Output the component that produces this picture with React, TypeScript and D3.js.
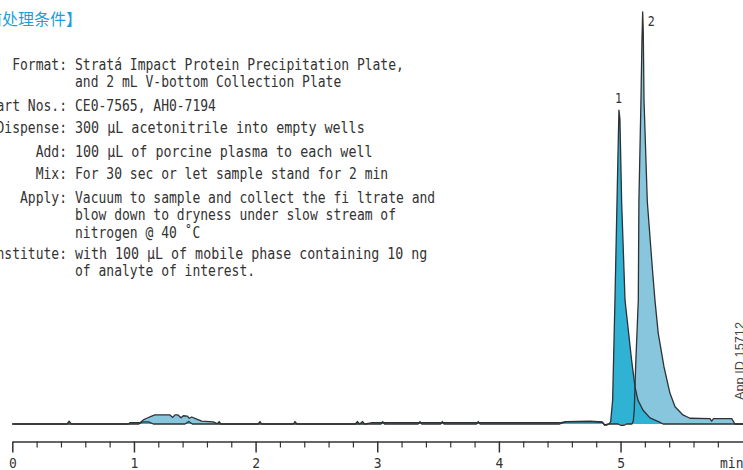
import React, { useEffect, useRef } from 'react';
import * as d3 from 'd3';

// retention time (min), relative intensity
const traceA: [number, number][] = [
  [0, 0], [0.45, 0], [0.467, 0.7], [0.485, 0],
  [1.04, 0], [1.07, 0.5], [1.12, 0.5], [1.16, 0], [1.42, 0], [1.45, 0.6], [1.48, 0],
  [1.685, 0], [1.7, 0.6], [1.715, 0],
  [2.02, 0], [2.036, 0.6], [2.05, 0],
  [2.31, 0], [2.324, 0.6], [2.34, 0],
  [2.82, 0], [2.836, 0.6], [2.855, 0], [2.88, 0.6], [2.895, 0],
  [3.03, 0], [3.045, 0.6], [3.06, 0],
  [3.335, 0], [3.351, 0.6], [3.365, 0],
  [3.52, 0], [3.535, 0.6], [3.55, 0],
  [3.815, 0], [3.831, 0.6], [3.845, 0],
  [4.5, 0], [4.55, 0.5], [4.75, 0.6], [4.85, 0.4], [4.87, -0.3], [4.89, -0.2], [4.905, 0],
  [4.919, 0.6], [4.935, 5.8], [4.954, 30], [4.971, 54], [4.983, 71], [4.987, 76.2],
  [4.995, 74], [5.009, 54], [5.037, 30], [5.091, 15.5], [5.119, 9], [5.143, 5.8],
  [5.184, 3.4], [5.242, 1.5], [5.324, 0.4], [5.35, 0], [6.01, 0],
];

const traceB: [number, number][] = [
  [0, 0], [0.954, 0], [0.967, 0.3], [1.05, 0.3], [1.077, 1.0], [1.105, 1.4], [1.146, 1.9],
  [1.173, 2.2], [1.296, 2.2], [1.319, 1.6], [1.337, 2.2], [1.362, 2.2], [1.387, 1.5],
  [1.406, 2.0], [1.439, 1.9], [1.455, 1.4], [1.475, 1.7], [1.516, 1.2], [1.557, 0.7],
  [1.652, 0.5], [1.693, 0],
  [2.9, 0], [2.95, 0.3], [4.5, 0.3], [4.55, 0.6], [4.75, 0.7], [4.85, 0.5], [4.87, -0.2],
  [4.9, 0], [4.98, 0], [5.0, -0.3], [5.03, -0.3], [5.05, 0], [5.094, 0],
  [5.105, 0.7], [5.113, 3.4], [5.124, 13.9], [5.146, 30], [5.151, 54], [5.168, 78.6],
  [5.176, 93], [5.182, 100], [5.187, 95], [5.193, 78.6], [5.22, 54], [5.261, 38],
  [5.283, 30], [5.31, 22], [5.357, 13.9], [5.406, 7.5], [5.448, 4.2], [5.513, 2.2],
  [5.571, 1.4], [5.735, 1.3], [5.749, 0.7], [5.764, 1.3], [5.914, 1.3], [5.941, 0], [6.01, 0],
];

const peakLabels = [
  { label: '1', t: 4.987, v: 76.2 },
  { label: '2', t: 5.182, v: 100 },
];

const majorTicks = [0, 1, 2, 3, 4, 5];

const title = '【前处理条件】';
const condLabels = ['Format:', 'Part Nos.:', 'Dispense:', 'Add:', 'Mix:', 'Apply:', 'Reconstitute:'];
const condValues = [
  ['Stratá Impact Protein Precipitation Plate,', 'and 2 mL V-bottom Collection Plate'],
  ['CE0-7565, AH0-7194'],
  ['300 μL acetonitrile into empty wells'],
  ['100 μL of porcine plasma to each well'],
  ['For 30 sec or let sample stand for 2 min'],
  ['Vacuum to sample and collect the fi ltrate and', 'blow down to dryness under slow stream of', 'nitrogen @ 40 ˚C'],
  ['with 100 μL of mobile phase containing 10 ng', 'of analyte of interest.'],
];

const W = 743;
const H = 470;
const CELL = 7.83;
const MONO = "'DejaVu Sans Mono', monospace";
const INK = '#333';
const cells = (s: string) => s.length + (s.match(/μ/g) || []).length;

export default function App() {
  const ref = useRef<SVGSVGElement>(null);

  useEffect(() => {
    const svg = d3.select(ref.current);
    svg.selectAll('*').remove();

    const x = d3.scaleLinear().domain([0, 6.01]).range([12.3, 743.4]);
    const y = d3.scaleLinear().domain([0, 100]).range([424, 12]);

    const area = d3.area<[number, number]>()
      .x(d => x(d[0]))
      .y0(y(0))
      .y1(d => y(d[1]));
    const line = d3.line<[number, number]>()
      .x(d => x(d[0]))
      .y(d => y(d[1]));

    // fills: light trace under, dark trace over
    svg.append('path').attr('d', area(traceB)).attr('fill', '#88c6de');
    svg.append('path').attr('d', area(traceA)).attr('fill', '#2fb2d3');
    svg.append('path').attr('d', line(traceB)).attr('fill', 'none')
      .attr('stroke', '#2e3235').attr('stroke-width', 1.3).attr('stroke-linejoin', 'round');
    svg.append('path').attr('d', line(traceA)).attr('fill', 'none')
      .attr('stroke', '#2e3235').attr('stroke-width', 1.3).attr('stroke-linejoin', 'round');

    svg.selectAll('text.peak')
      .data(peakLabels)
      .enter()
      .append('text')
      .attr('class', 'peak')
      .attr('x', d => x(d.t) + (d.label === '1' ? -4 : 5))
      .attr('y', d => y(d.v) - (d.label === '1' ? 7 : -14))
      .attr('font-family', MONO)
      .attr('font-size', 14)
      .attr('fill', INK)
      .attr('textLength', 7).attr('lengthAdjust', 'spacingAndGlyphs')
      .text(d => d.label);

    // x axis
    const minorTicks = d3.range(0, 5.9, 0.2).filter(t => Math.abs(t - Math.round(t)) > 0.01);
    const gMinor = svg.append('g').attr('transform', 'translate(0,441.5)')
      .call(d3.axisBottom(x).tickValues(minorTicks).tickSize(6).tickSizeOuter(0).tickFormat(() => ''));
    gMinor.select('.domain').attr('stroke', INK).attr('stroke-width', 1.5);
    gMinor.selectAll('.tick line').attr('stroke', INK).attr('stroke-width', 1.2);

    const gMajor = svg.append('g').attr('transform', 'translate(0,441.5)')
      .call(d3.axisBottom(x).tickValues(majorTicks).tickSize(11).tickSizeOuter(0).tickFormat(d3.format('d')));
    gMajor.select('.domain').remove();
    gMajor.selectAll('.tick line').attr('stroke', INK).attr('stroke-width', 1.5);
    gMajor.selectAll('.tick text')
      .attr('y', 26.5).attr('dy', null)
      .attr('font-family', MONO).attr('font-size', 14.5).attr('fill', INK)
      .attr('textLength', CELL).attr('lengthAdjust', 'spacingAndGlyphs');

    svg.append('text')
      .attr('x', 720).attr('y', 468)
      .attr('font-family', MONO).attr('font-size', 14.5).attr('fill', INK)
      .attr('textLength', 3 * CELL).attr('lengthAdjust', 'spacingAndGlyphs')
      .text('min');

    svg.append('text')
      .attr('transform', 'translate(744,400) rotate(-90)')
      .attr('font-family', "'Liberation Sans', sans-serif").attr('font-size', 13.5).attr('fill', '#444')
      .attr('textLength', 78).attr('lengthAdjust', 'spacingAndGlyphs')
      .text('App ID 15712');

    // conditions block
    svg.append('text')
      .attr('x', 82).attr('y', 25)
      .attr('text-anchor', 'end')
      .attr('font-family', "'Noto Sans CJK SC', sans-serif").attr('font-size', 16)
      .attr('fill', '#1d9fd6')
      .text(title);

    const rowStart = [70, 111, 133, 157, 179, 203, 259];
    condLabels.forEach((lab, i) => {
      svg.append('text')
        .attr('x', 67).attr('y', rowStart[i])
        .attr('text-anchor', 'end')
        .attr('font-family', MONO).attr('font-size', 15).attr('fill', INK)
        .attr('textLength', cells(lab) * CELL).attr('lengthAdjust', 'spacingAndGlyphs')
        .text(lab);
      condValues[i].forEach((s, j) => {
        svg.append('text')
          .attr('x', 75).attr('y', rowStart[i] + j * 17.3)
          .attr('font-family', MONO).attr('font-size', 15).attr('fill', INK)
          .attr('textLength', cells(s) * CELL).attr('lengthAdjust', 'spacingAndGlyphs')
          .text(s);
      });
    });
  }, []);

  return (
    <svg ref={ref} width={W} height={H}
      style={{ position: 'absolute', left: 0, top: 0, background: '#fff' }} />
  );
}
